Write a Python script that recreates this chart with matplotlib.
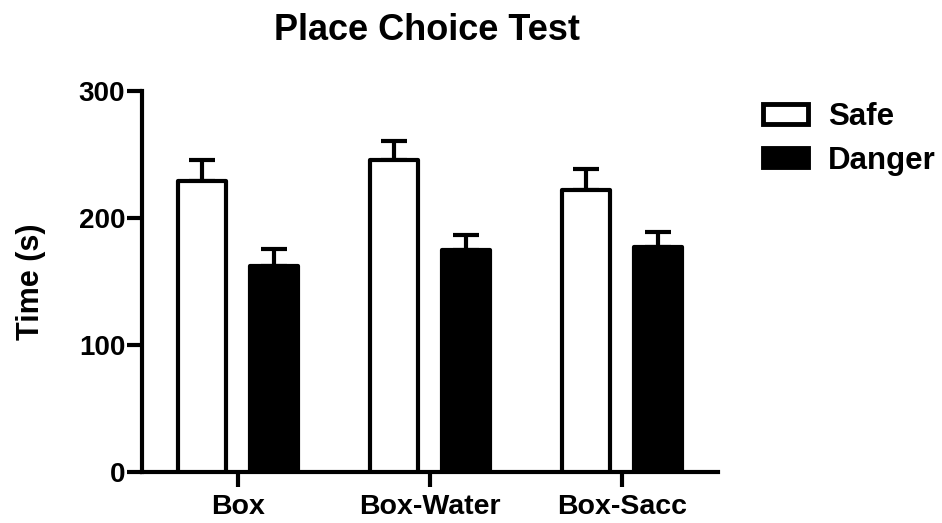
import matplotlib
matplotlib.use("Agg")
import matplotlib.pyplot as plt
import numpy as np
from matplotlib.patches import Patch

categories = ["Box", "Box-Water", "Box-Sacc"]
safe_mean = [229, 246, 222]
safe_sem = [17, 14.5, 16.5]
danger_mean = [162, 175, 177]
danger_sem = [13.5, 12, 12]
series_labels = ["Safe", "Danger"]
yticks = [0, 100, 200, 300]

plt.rcParams['font.family'] = ['Liberation Sans', 'DejaVu Sans']
plt.rcParams['font.weight'] = 'bold'

fig = plt.figure(figsize=(9.42, 5.23), dpi=100)
ax = fig.add_axes([142/942, 1-472/523, 576/942, 381/523])

x = np.arange(len(categories))
w = 0.245
off = 0.1875
lw = 3.0

ax.bar(x - off, safe_mean, width=w, color='white', edgecolor='black',
       linewidth=lw, joinstyle='round', zorder=3)
ax.bar(x + off, danger_mean, width=w, color='black', edgecolor='black',
       linewidth=lw, joinstyle='round', zorder=3)
ax.errorbar(x - off, safe_mean, yerr=[np.zeros(3), safe_sem], fmt='none',
            ecolor='black', elinewidth=lw, capsize=9.5, capthick=lw, zorder=2)
ax.errorbar(x + off, danger_mean, yerr=[np.zeros(3), danger_sem], fmt='none',
            ecolor='black', elinewidth=lw, capsize=9.5, capthick=lw, zorder=2)

ax.set_xlim(-0.5, 2.5)
ax.set_ylim(0, 300)
ax.set_yticks(yticks)
ax.set_xticks(x)
ax.set_xticklabels(categories)
for s in ['top', 'right']:
    ax.spines[s].set_visible(False)
for s in ['left', 'bottom']:
    ax.spines[s].set_linewidth(lw)
    ax.spines[s].set_capstyle('projecting')
ax.tick_params(axis='both', length=11, width=lw)
ax.tick_params(axis='y', pad=1, labelsize=20)
ax.tick_params(axis='x', pad=5, labelsize=20.5)
for lab in ax.get_xticklabels() + ax.get_yticklabels():
    lab.set_fontweight('bold')

ax.set_ylabel("Time (s)", fontsize=22, fontweight='bold')
ax.yaxis.set_label_coords(-0.167, 0.5)

fig.text(427/942, 1-40/523, "Place Choice Test", fontsize=26, fontweight='bold',
         ha='center', va='baseline')

handles = [Patch(facecolor='white', edgecolor='black', linewidth=3.5),
           Patch(facecolor='black', edgecolor='black', linewidth=3.5)]
fig.legend(handles, series_labels, loc='upper left',
           bbox_to_anchor=(763/942, 1-102/523), frameon=False,
           prop={'size': 22.5, 'weight': 'bold'}, borderpad=0,
           handlelength=1.45, handleheight=0.58, handletextpad=0.62,
           labelspacing=0.44, borderaxespad=0)

fig.savefig("out.png", dpi=100)
